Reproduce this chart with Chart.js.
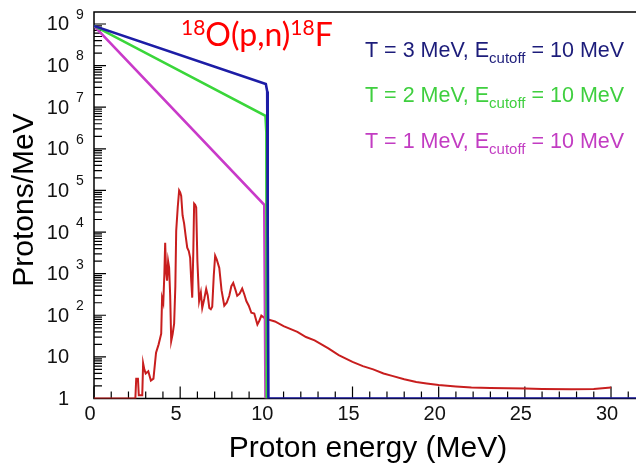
<!DOCTYPE html>
<html>
<head>
<meta charset="utf-8">
<script src="https://cdn.jsdelivr.net/npm/chart.js@4.4.1/dist/chart.umd.min.js"></script>
<style>
  html, body { margin: 0; padding: 0; background: #fff; }
  #wrap { width: 636px; height: 465px; }
</style>
</head>
<body>
<div id="wrap"><canvas id="spectrum" width="636" height="465"></canvas></div>
<script>
// proton spectra (protons/MeV vs MeV)

const t3Energy = [0, 9.97, 10.05, 10.08, 10.12, 31.5];
const t3Yield  = [9e8, 3.6e7, 2.4e7, 1e4, 1, 1];

const t2Energy = [0, 9.95, 10.0, 10.02];
const t2Yield  = [9e8, 6.2e6, 2.5e6, 1];

const t1Energy = [0, 9.88, 9.95];
const t1Yield  = [9e8, 4.5e4, 1];

// 18O(p,n)18F weighted curve
const xsEnergy = [0, 2.4, 2.45, 2.55, 2.6, 2.8, 2.85, 2.92, 3.0, 3.15, 3.3, 3.45, 3.6, 3.75, 3.9, 3.95,
  4.02, 4.08, 4.13, 4.18, 4.24, 4.3, 4.36, 4.42, 4.48, 4.56, 4.65, 4.72, 4.77, 4.86, 4.94, 5.0,
  5.06, 5.14, 5.23, 5.32, 5.41, 5.5, 5.58, 5.64, 5.7, 5.76, 5.81, 5.87, 5.93, 6.0, 6.1, 6.2,
  6.28, 6.4, 6.51, 6.6, 6.69, 6.78, 6.86, 6.95, 7.03, 7.12, 7.27, 7.4, 7.56, 7.7, 7.85, 7.97,
  8.08, 8.2, 8.31, 8.45, 8.6, 8.72, 8.84, 8.98, 9.13, 9.3, 9.48, 9.6, 9.71, 9.94,
  10.5, 11.0, 11.8, 12.3, 12.8, 13.6, 14.2, 15.0, 15.6, 16.2, 16.8, 17.3, 18.0, 18.7, 19.3,
  20.0, 21.0, 21.9, 23.0, 25.0, 26.0, 27.7, 29.0, 30.0];
const xsYield = [1, 1, 3, 3, 1.2, 1.2, 7, 5, 4, 4.5, 2.7, 3, 12.6, 20, 36, 260,
  200, 900, 5500, 1200, 680, 2000, 1380, 300, 24, 35, 63, 500, 1.07e4, 4e4, 1e5, 9e4,
  7.4e4, 2.5e4, 1.6e4, 8000, 4200, 3500, 2400, 700, 265, 3000, 4.8e4, 4.5e4, 3.9e4, 2000, 220, 350,
  150, 250, 430, 300, 150, 140, 160, 900, 2700, 2200, 1380, 400, 170, 200, 295, 500,
  600, 420, 295, 330, 440, 320, 220, 170, 115, 110, 60, 75, 98, 83,
  71, 55, 40, 30, 25, 16, 11, 7.6, 6, 5.0, 4, 3.5, 2.9, 2.5, 2.3,
  2.1, 1.95, 1.85, 1.8, 1.74, 1.7, 1.66, 1.7, 1.85];

const xTickValues = [0, 5, 10, 15, 20, 25, 30];
const xTickLabels = ['0', '5', '10', '15', '20', '25', '30'];
const yTickExps = [0, 1, 2, 3, 4, 5, 6, 7, 8, 9];

const legendRows = [
  { color: '#1c1c7a', t: '3' },
  { color: '#3fcf3f', t: '2' },
  { color: '#c23cc2', t: '1' },
];

const SANS = '"Liberation Sans", Arial, sans-serif';

function points(xs, ys) {
  return xs.map((x, i) => ({ x: x, y: ys[i] }));
}

// text runs with super/subscripts
function drawRuns(ctx, x, y, runs) {
  ctx.textAlign = 'left';
  ctx.textBaseline = 'alphabetic';
  for (const r of runs) {
    ctx.font = r.font;
    ctx.fillText(r.t, x, y + (r.dy || 0));
    x += ctx.measureText(r.t).width;
  }
}

const decor = {
  id: 'decor',
  // frame and ticks go under the curves
  beforeDatasetsDraw(chart) {
    const { ctx, chartArea: a } = chart;
    const xs = chart.scales.x, ys = chart.scales.y;
    ctx.save();
    ctx.strokeStyle = '#000';
    ctx.lineWidth = 1.5;
    ctx.beginPath();
    ctx.moveTo(a.right, a.top);
    ctx.lineTo(a.left, a.top);
    ctx.lineTo(a.left, a.bottom);
    ctx.lineTo(a.right, a.bottom);
    ctx.stroke();

    ctx.lineWidth = 1.2;
    ctx.beginPath();
    for (let v = 0; v <= Math.floor(xs.max); v++) {
      const px = xs.getPixelForValue(v);
      const len = v % 5 === 0 ? 12 : 7;
      ctx.moveTo(px, a.bottom);
      ctx.lineTo(px, a.bottom - len);
    }
    for (const k of yTickExps) {
      for (let m = 1; m <= 9; m++) {
        const v = m * Math.pow(10, k);
        if (v > ys.max) break;
        const py = ys.getPixelForValue(v);
        const len = m === 1 ? 12 : 8;
        ctx.moveTo(a.left, py);
        ctx.lineTo(a.left + len, py);
      }
    }
    ctx.stroke();
    ctx.restore();
  },
  afterDraw(chart) {
    const { ctx } = chart;
    const xs = chart.scales.x, ys = chart.scales.y;
    ctx.save();

    // tick labels
    ctx.fillStyle = '#111';
    ctx.font = '20px ' + SANS;
    ctx.textAlign = 'center';
    ctx.textBaseline = 'middle';
    xTickValues.forEach((v, i) => {
      ctx.fillText(xTickLabels[i], xs.getPixelForValue(v) - 4, 414);
    });
    for (const k of yTickExps) {
      const py = ys.getPixelForValue(Math.pow(10, k));
      ctx.font = '20px ' + SANS;
      ctx.textAlign = 'right';
      ctx.textBaseline = 'middle';
      ctx.fillText(k === 0 ? '1' : '10', 69, py + 1);
      if (k > 1) {
        ctx.font = '14px ' + SANS;
        ctx.textAlign = 'left';
        ctx.fillText(String(k), 76, py - 9);
      }
    }

    // axis titles
    ctx.fillStyle = '#000';
    ctx.font = '30px ' + SANS;
    ctx.textAlign = 'center';
    ctx.textBaseline = 'alphabetic';
    ctx.fillText('Proton energy (MeV)', 368, 457);
    ctx.save();
    ctx.translate(33, 200);
    ctx.rotate(-Math.PI / 2);
    ctx.fillText('Protons/MeV', 0, 0);
    ctx.restore();

    // reaction label
    ctx.fillStyle = '#ff0000';
    const big = '32px Lato, sans-serif', sup = '21px Lato, sans-serif';
    drawRuns(ctx, 181, 46, [
      { t: '18', font: sup, dy: -11 },
      { t: 'O(p,n)', font: big },
      { t: '18', font: sup, dy: -11 },
      { t: 'F', font: big },
    ]);

    // legend
    const baselines = [57, 102, 148];
    legendRows.forEach((row, i) => {
      ctx.fillStyle = row.color;
      drawRuns(ctx, 365, baselines[i], [
        { t: 'T = ' + row.t + ' MeV, E', font: '21.5px ' + SANS },
        { t: 'cutoff', font: '15px ' + SANS, dy: 6 },
        { t: ' = 10 MeV', font: '21.5px ' + SANS },
      ]);
    });

    ctx.restore();
  }
};

new Chart(document.getElementById('spectrum'), {
  type: 'line',
  data: {
    datasets: [
      { data: points(t3Energy, t3Yield), borderColor: '#1d1da6', borderWidth: 2.6 },
      { data: points(t2Energy, t2Yield), borderColor: '#3ad63a', borderWidth: 2.6 },
      { data: points(t1Energy, t1Yield), borderColor: '#c93ac9', borderWidth: 2.6 },
      { data: points(xsEnergy, xsYield), borderColor: '#c81e1e', borderWidth: 2 },
    ],
  },
  options: {
    responsive: false,
    animation: false,
    events: [],
    elements: { point: { radius: 0 }, line: { tension: 0 } },
    layout: { padding: { top: 12, right: 0, left: 0, bottom: 0 } },
    plugins: { legend: { display: false }, tooltip: { enabled: false } },
    scales: {
      x: {
        type: 'linear', min: 0, max: 31.45,
        grid: { display: false }, border: { display: false },
        ticks: { display: false },
        afterFit: s => { s.height = 66.5; },
      },
      y: {
        type: 'logarithmic', min: 1, max: 1.94e9,
        grid: { display: false }, border: { display: false },
        ticks: { display: false },
        afterFit: s => { s.width = 94; },
      },
    },
  },
  plugins: [decor],
});
</script>
</body>
</html>
